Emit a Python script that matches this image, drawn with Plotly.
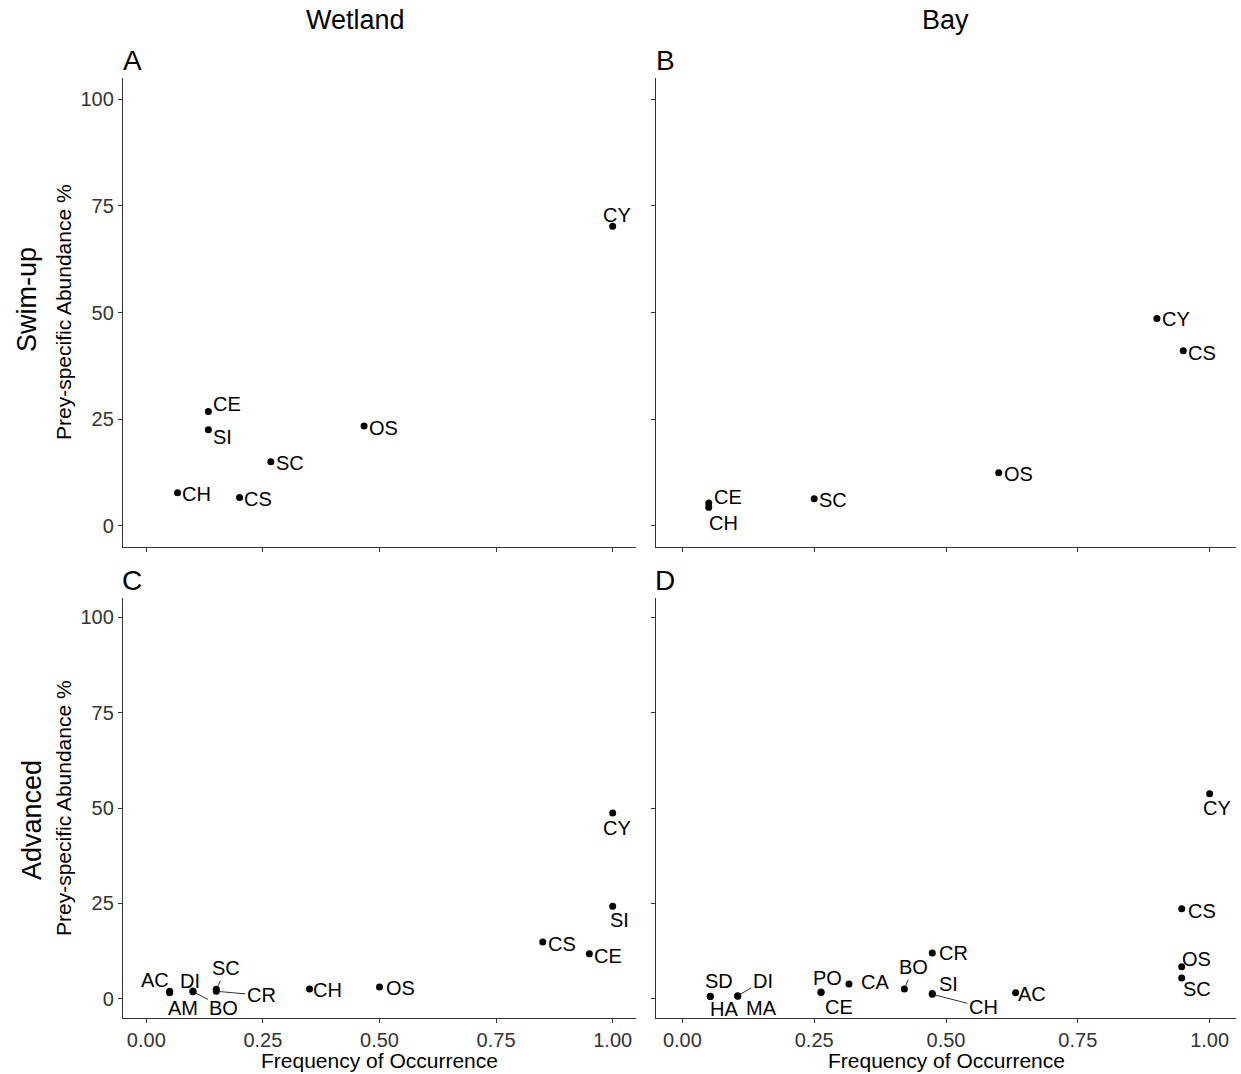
import plotly.graph_objects as go

W, H = 1241, 1074
FONT = "Liberation Sans, Arial, sans-serif"

# ---------------- data ----------------
# Panel A: Wetland, Swim-up
a_prey = ["CY", "CE", "SI", "OS", "SC", "CH", "CS"]
a_freq = [1.00, 0.133, 0.133, 0.467, 0.267, 0.067, 0.200]
a_abund = [70.2, 26.8, 22.5, 23.4, 15.0, 7.7, 6.6]

# Panel B: Bay, Swim-up
b_prey = ["CY", "CS", "OS", "SC", "CE", "CH"]
b_freq = [0.90, 0.95, 0.60, 0.25, 0.05, 0.05]
b_abund = [48.6, 41.0, 12.4, 6.3, 5.3, 4.3]

# Panel C: Wetland, Advanced
c_prey = ["CY", "SI", "CS", "CE", "OS", "CH", "AC", "AM", "DI", "BO", "SC", "CR"]
c_freq = [1.00, 1.00, 0.85, 0.95, 0.50, 0.35, 0.05, 0.05, 0.10, 0.10, 0.15, 0.15]
c_abund = [48.7, 24.3, 14.9, 11.8, 3.1, 2.6, 2.0, 1.6, 2.1, 1.9, 2.5, 2.0]

# Panel D: Bay, Advanced
d_prey = ["CY", "CS", "OS", "SC", "CR", "BO", "SI", "CH", "AC", "CA", "PO", "CE",
          "SD", "HA", "DI", "MA"]
d_freq = [1.00, 0.947, 0.947, 0.947, 0.474, 0.421, 0.474, 0.474, 0.632, 0.316,
          0.263, 0.263, 0.053, 0.053, 0.105, 0.105]
d_abund = [53.7, 23.6, 8.4, 5.5, 12.0, 2.6, 1.4, 1.2, 1.6, 3.9, 1.8, 1.7,
           0.7, 0.6, 0.8, 0.7]

x_ticks = [0, 0.25, 0.5, 0.75, 1.0]
x_ticktext = ["0.00", "0.25", "0.50", "0.75", "1.00"]
y_ticks = [0, 25, 50, 75, 100]
y_ticktext = ["0", "25", "50", "75", "100"]

col_titles = ["Wetland", "Bay"]
row_titles = ["Swim-up", "Advanced"]
panel_letters = ["A", "B", "C", "D"]
x_title = "Frequency of Occurrence"
y_title = "Prey-specific Abundance %"

# ---------------- label placement (pixel offsets: dx, dy(down), segment) ----------------
offsets = {
    "A": {"CY": (4, -11, 0), "CE": (19, -7, 0), "SI": (14, 7, 0), "OS": (19, 2, 0),
          "SC": (19, 1, 0), "CH": (19, 1, 0), "CS": (18, 1, 0)},
    "B": {"CY": (19, 1, 0), "CS": (19, 2, 0), "OS": (20, 1, 0), "SC": (19, 1, 0),
          "CE": (19, -6, 0), "CH": (15, 16, 0)},
    "C": {"CY": (4, 15, 0), "SI": (7, 14, 0), "CS": (19, 2, 0), "CE": (19, 2, 0),
          "OS": (21, 1, 0), "CH": (18, 1, 0), "AC": (-15, -11, 0), "AM": (13, 15, 0),
          "DI": (-3, -10, 0), "BO": (31, 16, 1), "SC": (10, -21, 1), "CR": (45, 4, 1)},
    "D": {"CY": (7, 14, 0), "CS": (20, 2, 0), "OS": (15, -8, 0), "SC": (15, 11, 0),
          "CR": (21, 0, 0), "BO": (9, -22, 1), "SI": (16, -10, 0), "CH": (51, 13, 1),
          "AC": (16, 1, 0), "CA": (26, -2, 0), "PO": (6, -14, 0), "CE": (18, 15, 0),
          "SD": (9, -15, 0), "HA": (14, 12, 0), "DI": (25, -15, 1), "MA": (24, 12, 0)},
}

# ---------------- layout geometry ----------------
col_dom = [[123 / W, 636 / W], [656 / W, 1236 / W]]
row_dom = [[1 - 547 / H, 1 - 78 / H], [1 - 1018 / H, 1 - 598 / H]]

panels = [
    ("A", a_prey, a_freq, a_abund, 0, 0),
    ("B", b_prey, b_freq, b_abund, 0, 1),
    ("C", c_prey, c_freq, c_abund, 1, 0),
    ("D", d_prey, d_freq, d_abund, 1, 1),
]

fig = go.Figure()
annotations = []
axis_common = dict(
    showline=True, linecolor="#333333", linewidth=1.3,
    ticks="outside", ticklen=4, tickwidth=1.2, tickcolor="#333333",
    showgrid=False, zeroline=False,
    tickfont=dict(family=FONT, size=20, color="#333333"),
)

for i, (letter, prey, freq, abund, r, c) in enumerate(panels):
    n = i + 1
    xa = "x" if n == 1 else f"x{n}"
    ya = "y" if n == 1 else f"y{n}"
    fig.add_trace(go.Scatter(
        x=freq, y=abund, mode="markers", xaxis=xa, yaxis=ya,
        marker=dict(color="black", size=7), showlegend=False, hoverinfo="text",
        text=prey,
    ))
    xkey = "xaxis" if n == 1 else f"xaxis{n}"
    ykey = "yaxis" if n == 1 else f"yaxis{n}"
    fig.layout[xkey] = dict(
        domain=col_dom[c], anchor=ya, range=[-0.05, 1.05],
        tickvals=x_ticks, ticktext=x_ticktext, showticklabels=(r == 1),
        **axis_common)
    fig.layout[ykey] = dict(
        domain=row_dom[r], anchor=xa, range=[-5, 105],
        tickvals=y_ticks, ticktext=y_ticktext, showticklabels=(c == 0),
        **axis_common)
    for p, fx, ay_ in zip(prey, freq, abund):
        dx, dy, seg = offsets[letter][p]
        if seg:
            annotations.append(dict(
                x=fx, y=ay_, xref=xa, yref=ya, text=p, showarrow=True,
                ax=dx, ay=dy, arrowhead=0, arrowwidth=1, arrowcolor="#333333",
                standoff=3, startstandoff=0,
                font=dict(family=FONT, size=20, color="black")))
        else:
            annotations.append(dict(
                x=fx, y=ay_, xref=xa, yref=ya, text=p, showarrow=False,
                xshift=dx, yshift=-dy, xanchor="center", yanchor="middle",
                font=dict(family=FONT, size=20, color="black")))
    # panel letters
    lx = (132 if c == 0 else 665) / W
    ly = 1 - (60 if r == 0 else 580) / H
    annotations.append(dict(x=lx, y=ly, xref="paper", yref="paper", text=letter,
                            showarrow=False, xanchor="center", yanchor="middle",
                            font=dict(family=FONT, size=28, color="black")))

# column titles
for c, t in enumerate(col_titles):
    cx = [355, 945][c] / W
    annotations.append(dict(x=cx, y=1 - 20 / H, xref="paper", yref="paper", text=t,
                            showarrow=False, xanchor="center", yanchor="middle",
                            font=dict(family=FONT, size=27, color="black")))
# row titles
for r, t in enumerate(row_titles):
    rx = [27, 32][r] / W
    ry = 1 - [300, 820][r] / H
    annotations.append(dict(x=rx, y=ry, xref="paper", yref="paper", text=t,
                            showarrow=False, textangle=-90, xanchor="center",
                            yanchor="middle",
                            font=dict(family=FONT, size=27, color="black")))
# y axis titles
for r in range(2):
    ry = 1 - [312, 808][r] / H
    annotations.append(dict(x=63 / W, y=ry, xref="paper", yref="paper", text=y_title,
                            showarrow=False, textangle=-90, xanchor="center",
                            yanchor="middle",
                            font=dict(family=FONT, size=21, color="black")))
# x axis titles
for c in range(2):
    cx = [379, 946][c] / W
    annotations.append(dict(x=cx, y=1 - 1060 / H, xref="paper", yref="paper",
                            text=x_title, showarrow=False, xanchor="center",
                            yanchor="middle",
                            font=dict(family=FONT, size=21, color="black")))

fig.update_layout(
    width=W, height=H, margin=dict(l=0, r=0, t=0, b=0),
    paper_bgcolor="white", plot_bgcolor="white",
    annotations=annotations, showlegend=False,
)

fig.write_html("out.html")
